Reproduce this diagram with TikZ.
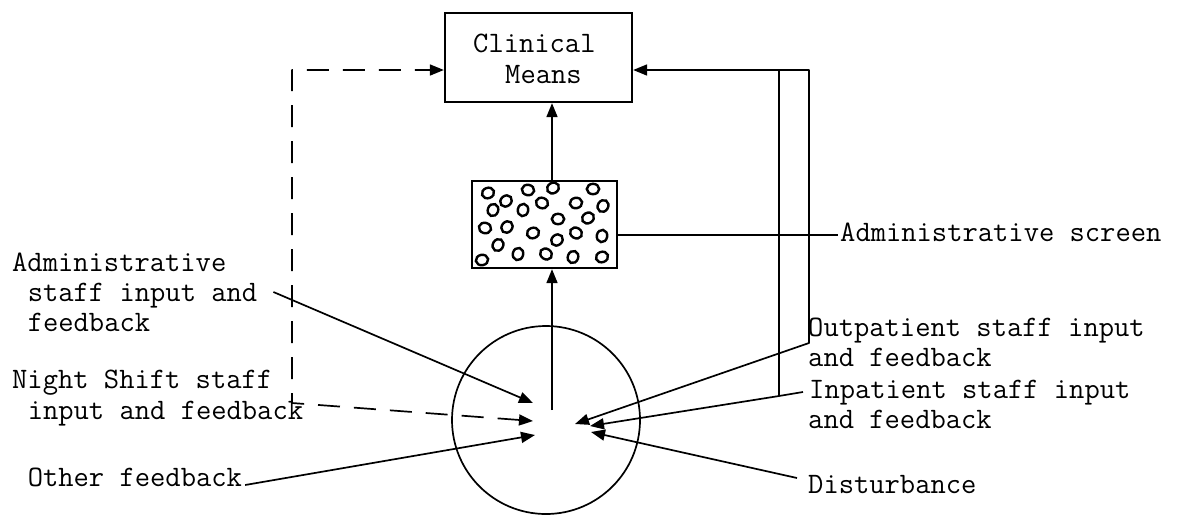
\documentclass[tikz,border=0pt]{standalone}
\usepackage{fontspec}
\usetikzlibrary{arrows.meta,calc}
\begin{document}
\begin{tikzpicture}[x=1pt,y=-1pt,
  conn/.style={line width=1.7pt, line join=round},
  tipend/.style={-{Triangle[length=14pt,width=11pt]}},
  tipboth/.style={{Triangle[length=14pt,width=11pt]}-{Triangle[length=14pt,width=11pt]}},
  dashline/.style={conn, dash pattern=on 22pt off 14pt},
  boxnode/.style={draw, line width=2.3pt, inner sep=0pt},
  lbl/.style={font=\fontsize{29.7}{30}\selectfont\ttfamily, inner sep=0pt,
    text height=18pt, text depth=5pt, anchor=west},
  grain/.style={line width=2.4pt}
]
\useasboundingbox (0,0) rectangle (1180,515);

% main blocks
\node[boxnode, minimum width=187pt, minimum height=89pt] (clin) at (538.5,57.5) {};
\node[lbl] (clinA) at (473,46) {Clinical};
\node[lbl] (clinB) at (505,77) {Means};

\node[boxnode, minimum width=145pt, minimum height=87pt] (scr) at (544.5,224.5) {};
\foreach \px/\py/\rot in {488/193/20, 528/190/-10, 553/188/30, 593/189/0,
    506/201/40, 542/203/-20, 576/203/10, 493/210/70, 523/210/80, 603/206/60,
    558/219/0, 588/218/30, 485/228/-15, 507/227/50, 533/233/20, 576/233/-30,
    602/236/80, 557/240/40, 498/245/60, 518/254/75, 546/254/-35, 573/257/70,
    602/257/20, 482/260/10}
  \draw[grain] (\px,\py) circle [x radius=6.2pt, y radius=5.2pt, rotate=\rot];

\node[draw, circle, line width=1.7pt, minimum size=188pt, inner sep=0pt] (core) at (546,420) {};

% arrow ends inside the circle
\coordinate (spine) at (552,410);
\coordinate (tA) at (533,403);
\coordinate (tN) at (533,421);
\coordinate (tO) at (535,435);
\coordinate (tP) at (575,424);
\coordinate (tI) at (590,426);
\coordinate (tD) at (591,432);

% labels, left
\node[lbl] (adm1) at (12,265) {Administrative};
\node[lbl] (adm2) at (27.6,295) {staff input and};
\node[lbl] (adm3) at (27.6,325) {feedback};
\node[lbl] (ngt1) at (12,382) {Night Shift staff};
\node[lbl] (ngt2) at (27.6,413) {input and feedback};
\node[lbl] (oth) at (27.6,480) {Other feedback};

% labels, right
\node[lbl] (admscr) at (840,235) {Administrative screen};
\node[lbl] (out1) at (808,330) {Outpatient staff input};
\node[lbl] (out2) at (808,360) {and feedback};
\node[lbl] (inp1) at (809,392) {Inpatient staff input};
\node[lbl] (inp2) at (808,422) {and feedback};
\node[lbl] (dist) at (808,487) {Disturbance};

% upward chain
\draw[conn, tipend] (spine) -- (spine |- scr.south);
\draw[conn, tipend] (spine |- scr.north) -- (spine |- clin.south);
\draw[conn] (admscr.west -| scr.east) -- ([xshift=-2pt]admscr.west);

% dashed night shift loop
\coordinate (nbend) at (292,403);
\coordinate (ncorner) at (292,70);
\draw[dashline, tipboth] (tN) -- (nbend) -- (ncorner) -- (clin.west |- ncorner);

% outpatient loop
\coordinate (opbend) at (809,343);
\coordinate (opcorner) at (809,70);
\draw[conn, tipboth] (tP) -- (opbend) -- (opcorner) -- (clin.east |- opcorner);

% inpatient line and its branch up
\coordinate (ipjoin) at (779,396);
\draw[conn, tipend] ([xshift=-6pt]inp1.west) -- (ipjoin) -- (tI);
\draw[conn] (ipjoin) -- (ipjoin |- opcorner);

% remaining inputs
\draw[conn, tipend] ([xshift=16pt,yshift=3pt]adm2.east) -- (tA);
\draw[conn, tipend] ([xshift=3pt,yshift=-5pt]oth.east) -- (tO);
\draw[conn, tipend] ([xshift=-11pt,yshift=9pt]dist.west) -- (tD);
\end{tikzpicture}
\end{document}
